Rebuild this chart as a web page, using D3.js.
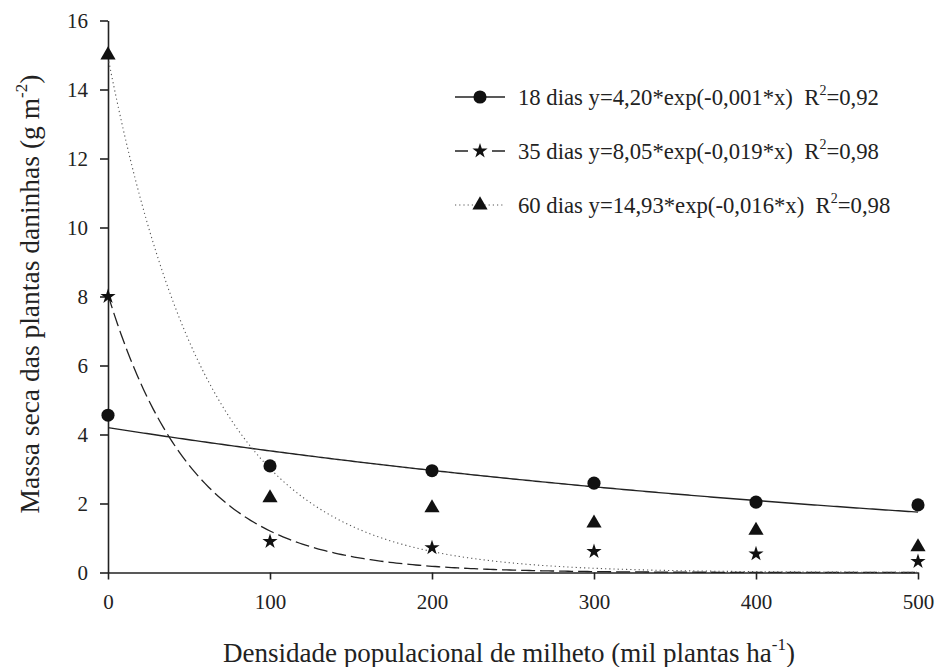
<!DOCTYPE html>
<meta charset="utf-8">
<style>
  body { margin: 0; background: #fff; }
  text { font-family: "Liberation Serif", "Times New Roman", serif; fill: #222; }
</style>
<svg width="936" height="667"></svg>
<script src="https://d3js.org/d3.v7.min.js"></script>
<script>

// dados
var densidade = [0, 100, 200, 300, 400, 500];
var dias18 = [4.56, 3.09, 2.95, 2.59, 2.04, 1.96];
var dias35 = [8.00, 0.90, 0.72, 0.61, 0.54, 0.32];
var dias60 = [15.00, 2.16, 1.87, 1.43, 1.22, 0.74];

// coeficientes das curvas ajustadas y = a*exp(-b*x)
var coefA = [4.20, 8.05, 14.93];
var coefB = [0.00175, 0.019, 0.016];

var xTicks = [0, 100, 200, 300, 400, 500];
var yTicks = [0, 2, 4, 6, 8, 10, 12, 14, 16];

var legendaDias = ["18 dias", "35 dias", "60 dias"];
var legendaEq = ["y=4,20*exp(-0,001*x)", "y=8,05*exp(-0,019*x)", "y=14,93*exp(-0,016*x)"];
var legendaR2 = ["=0,92", "=0,98", "=0,98"];

var svg = d3.select("svg");

var x = d3.scaleLinear().domain([0, 500]).range([108, 918]);
var y = d3.scaleLinear().domain([0, 16]).range([572.5, 20.5]);

var series = [
  { vals: dias18, sym: d3.symbolCircle, size: 135, dash: null, legDash: null, stroke: "#222", width: 1.4 },
  { vals: dias35, sym: d3.symbolStar, size: 72, dash: "14,5", legDash: "13,24,13", stroke: "#222", width: 1.3 },
  { vals: dias60, sym: d3.symbolTriangle, size: 100, dash: "1.2,3", legDash: "1.2,3", stroke: "#555", width: 1.1 }
];

// eixos
var xAxis = svg.append("g")
    .attr("transform", "translate(0," + y(0) + ")")
    .call(d3.axisBottom(x).tickValues(xTicks).tickSize(7).tickSizeOuter(0).tickPadding(15));
var yAxis = svg.append("g")
    .attr("transform", "translate(" + x(0) + ",0)")
    .call(d3.axisLeft(y).tickValues(yTicks).tickSize(8).tickSizeOuter(0).tickPadding(12));

[xAxis, yAxis].forEach(function(ax) {
  ax.selectAll("path, line").attr("stroke", "#222").attr("stroke-width", 1.6);
  ax.selectAll("text").attr("font-size", 21).attr("fill", "#222")
    .style("font-family", "Liberation Serif, serif");
});

// curvas ajustadas
var xs = d3.range(0, 500.1, 2);
var line = d3.line()
    .x(function(d) { return x(d[0]); })
    .y(function(d) { return y(d[1]); });

series.forEach(function(s, i) {
  var pts = xs.map(function(v) { return [v, coefA[i] * Math.exp(-coefB[i] * v)]; });
  svg.append("path")
      .datum(pts)
      .attr("fill", "none")
      .attr("stroke", s.stroke)
      .attr("stroke-width", s.width)
      .attr("stroke-dasharray", s.dash)
      .attr("d", line);
});

// pontos
series.forEach(function(s) {
  svg.append("g").selectAll("path")
    .data(s.vals)
    .enter().append("path")
      .attr("d", d3.symbol().type(s.sym).size(s.size))
      .attr("fill", "#111")
      .attr("transform", function(d, j) { return "translate(" + x(densidade[j]) + "," + y(d) + ")"; });
});

// legenda
var legY = [97, 151, 205];
series.forEach(function(s, i) {
  var g = svg.append("g").attr("transform", "translate(455," + legY[i] + ")");
  g.append("line")
      .attr("x1", 0).attr("x2", 50)
      .attr("stroke", s.stroke)
      .attr("stroke-width", s.width)
      .attr("stroke-dasharray", s.legDash);
  g.append("path")
      .attr("d", d3.symbol().type(s.sym).size(s.size))
      .attr("fill", "#111")
      .attr("transform", "translate(25,0)");
  var t = g.append("text")
      .attr("x", 63).attr("y", 7.5)
      .attr("font-size", 22.7);
  t.append("tspan").text(legendaDias[i] + " " + legendaEq[i] + "\u00a0\u00a0R");
  t.append("tspan").attr("font-size", 14).attr("dy", -10).text("2");
  t.append("tspan").attr("dy", 10).text(legendaR2[i]);
});

// títulos dos eixos
var xt = svg.append("text")
    .attr("x", 509).attr("y", 661.5)
    .attr("text-anchor", "middle")
    .attr("font-size", 27);
xt.append("tspan").text("Densidade populacional de milheto (mil plantas ha");
xt.append("tspan").attr("font-size", 17).attr("dy", -12).text("-1");
xt.append("tspan").attr("dy", 12).text(")");

var yt = svg.append("text")
    .attr("transform", "translate(38.5,294) rotate(-90)")
    .attr("text-anchor", "middle")
    .attr("font-size", 27.5);
yt.append("tspan").text("Massa seca das plantas daninhas (g m");
yt.append("tspan").attr("font-size", 17).attr("dy", -12).text("-2");
yt.append("tspan").attr("dy", 12).text(")");

</script>
